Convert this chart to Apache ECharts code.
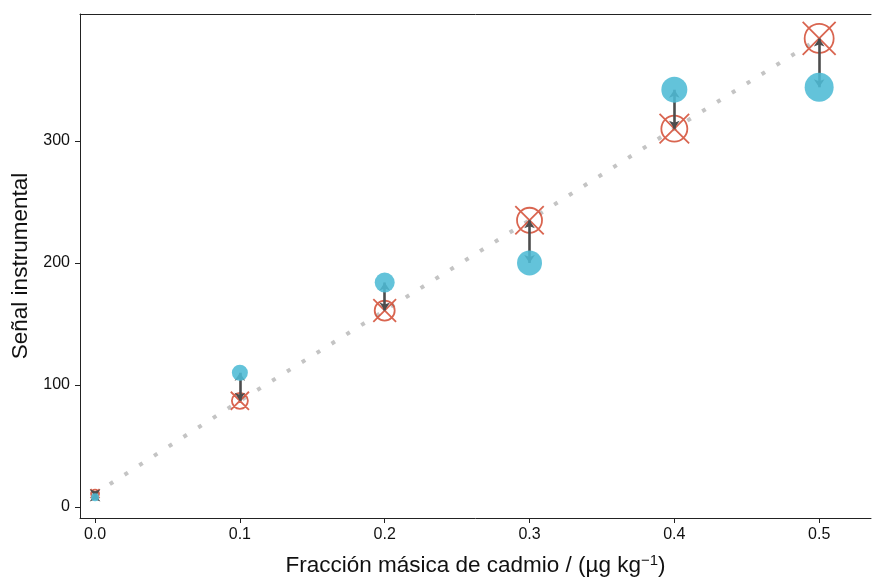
<!DOCTYPE html>
<html><head><meta charset="utf-8">
<script src="https://cdn.jsdelivr.net/npm/echarts@6/dist/echarts.min.js"></script>
<style>html,body{margin:0;padding:0;background:#fff}#c{width:872px;height:578px}</style>
</head><body><div id="c"></div>
<script>
const xValues = [0, 0.1, 0.2, 0.3, 0.4, 0.5];
const observed = [8, 110, 184, 200, 342, 344];
const fitted = [11, 87, 161, 235, 310, 384];
const weights = [4, 8, 10, 12.5, 13, 14.5];
const xTicks = [0, 0.1, 0.2, 0.3, 0.4, 0.5];
const yTicks = [0, 100, 200, 300];

const FONT = 'Liberation Sans';
const chart = echarts.init(document.getElementById('c'));
const obsData = xValues.map((x, i) => ({value: [x, observed[i]], symbolSize: weights[i] * 2}));
const fitData = xValues.map((x, i) => ({value: [x, fitted[i]], symbolSize: weights[i] * 2 * 20 / 17.6}));
const lineData = xValues.map((x, i) => [x, fitted[i]]);
const arrowData = xValues.map((x, i) => ({coords: [[x, observed[i]], [x, fitted[i]]]}));
const crossPath = 'path://M10 1.2A8.8 8.8 0 1 1 10 18.8A8.8 8.8 0 1 1 10 1.2ZM0 0L20 20M20 0L0 20';

const axisCommon = {
  splitLine: {show: false},
  axisLine: {show: true, onZero: false, lineStyle: {color: '#222', width: 1}}
};

chart.setOption({
  animation: false,
  grid: {left: 80, right: 1, top: 14, bottom: 60, containLabel: false, outerBoundsMode: 'none'},
  xAxis: [{
    type: 'value', min: -0.0104, max: 0.5358, ...axisCommon,
    name: 'Fracción másica de cadmio / (µg kg{sup|−1})',
    nameLocation: 'middle', nameGap: 35,
    nameTextStyle: {fontFamily: FONT, fontSize: 22.5, color: '#111', lineHeight: 26,
      rich: {sup: {fontFamily: FONT, fontSize: 15, color: '#111', verticalAlign: 'top', lineHeight: 26}}},
    axisTick: {show: true, length: 5, lineStyle: {color: '#222'}, customValues: xTicks},
    axisLabel: {customValues: xTicks, fontFamily: FONT, fontSize: 16, color: '#111', margin: 9,
      formatter: v => v.toFixed(1)}
  }, {
    type: 'value', position: 'top', min: -0.0104, max: 0.5358, ...axisCommon,
    axisTick: {show: false}, axisLabel: {show: false}
  }],
  yAxis: {
    type: 'value', min: -9, max: 404, ...axisCommon,
    name: 'Señal instrumental', nameLocation: 'middle', nameGap: 48, nameRotate: 90,
    nameTextStyle: {fontFamily: FONT, fontSize: 22.5, color: '#111'},
    axisTick: {show: true, length: 5, lineStyle: {color: '#222'}, customValues: yTicks},
    axisLabel: {customValues: yTicks, fontFamily: FONT, fontSize: 16, color: '#111', margin: 10}
  },
  series: [
    {type: 'line', data: lineData, showSymbol: false, z: 1,
      lineStyle: {color: '#c4c4c4', width: 4, type: [4, 13.5], cap: 'butt'}},
    {type: 'scatter', data: fitData, symbol: crossPath, z: 2,
      itemStyle: {color: 'rgba(0,0,0,0)', borderColor: '#D03E24', borderWidth: 1.8}},
    {type: 'lines', coordinateSystem: 'cartesian2d', data: arrowData, z: 3,
      symbol: ['arrow', 'arrow'], symbolSize: 8,
      lineStyle: {color: '#4d4d4d', width: 2.6, opacity: 1}},
    {type: 'scatter', data: obsData, symbol: 'circle', z: 4,
      itemStyle: {color: '#4DBBD5', opacity: 0.88}}
  ]
});
</script></body></html>
